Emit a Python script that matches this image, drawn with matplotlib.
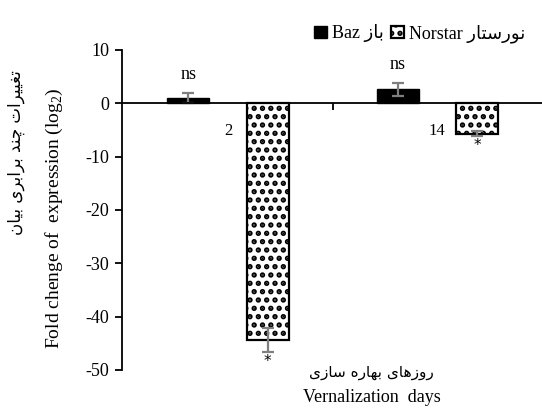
import numpy as np
import matplotlib
matplotlib.use("Agg")
from matplotlib import pyplot as plt

# data
days = ["2", "14"]
baz = [1.0, 2.6]
baz_err = [0.9, 1.2]
norstar = [-44.4, -5.7]
norstar_err = [2.2, 0.4]
baz_marks = ["ns", "ns"]
norstar_marks = ["*", "*"]
yticks = [10, 0, -10, -20, -30, -40, -50]

# minimal arabic/persian shaping (matplotlib has no bidi / joining)
FORMS = {
    "ا": ("\ufe8d", "\ufe8e", None, None),
    "ب": ("\ufe8f", "\ufe90", "\ufe91", "\ufe92"),
    "ت": ("\ufe95", "\ufe96", "\ufe97", "\ufe98"),
    "چ": ("\ufb7a", "\ufb7b", "\ufb7c", "\ufb7d"),
    "د": ("\ufea9", "\ufeaa", None, None),
    "ر": ("\ufead", "\ufeae", None, None),
    "ز": ("\ufeaf", "\ufeb0", None, None),
    "س": ("\ufeb1", "\ufeb2", "\ufeb3", "\ufeb4"),
    "غ": ("\ufecd", "\ufece", "\ufecf", "\ufed0"),
    "ن": ("\ufee5", "\ufee6", "\ufee7", "\ufee8"),
    "ه": ("\ufee9", "\ufeea", "\ufeeb", "\ufeec"),
    "و": ("\ufeed", "\ufeee", None, None),
    "ی": ("\ufbfc", "\ufbfd", "\ufbfe", "\ufbff"),
}
NONJOIN = set("ادذرزژو")


def fa(text):
    out = []
    for i, ch in enumerate(text):
        if ch not in FORMS:
            out.append(ch)
            continue
        prev = text[i - 1] if i > 0 else ""
        nxt = text[i + 1] if i + 1 < len(text) else ""
        jp = prev in FORMS and prev not in NONJOIN
        jn = nxt in FORMS and ch not in NONJOIN
        iso, fin, ini, med = FORMS[ch]
        if jp and jn:
            out.append(med)
        elif jp:
            out.append(fin)
        elif jn:
            out.append(ini)
        else:
            out.append(iso)
    return "".join(reversed(out))


plt.rcParams["font.family"] = ["Liberation Serif", "DejaVu Sans"]
plt.rcParams["mathtext.fontset"] = "custom"
plt.rcParams["mathtext.rm"] = "Liberation Serif"
plt.rcParams["axes.unicode_minus"] = False
plt.rcParams["hatch.color"] = "#4a4630"
plt.rcParams["hatch.linewidth"] = 2.6

fig = plt.figure(figsize=(5.42, 4.12), dpi=100)
ax = fig.add_axes([0.225, 0.102, 0.775, 0.777])

x = np.arange(len(days))
w = 0.2
off = 0.19
eb = dict(ecolor="#7f7f7f", elinewidth=1.6, capsize=4, capthick=1.6)
ax.bar(x - off, baz, w, yerr=baz_err, color="black", edgecolor="black",
       linewidth=1, error_kw=eb, label="Baz " + fa("باز"), zorder=2)
ax.bar(x + off, norstar, w, yerr=norstar_err, color="white", edgecolor="black",
       linewidth=1.6, hatch="..", error_kw=eb,
       label="Norstar " + fa("نورستار"), zorder=2)

for i in range(len(days)):
    ax.text(x[i] - off, baz[i] + baz_err[i] + 3.5, baz_marks[i],
            ha="center", va="center", fontsize=13)
    ax.text(x[i] + off, norstar[i] - norstar_err[i] - 1.9, norstar_marks[i],
            ha="center", va="center", fontsize=11, family="DejaVu Sans")

ax.set_xlim(-0.507, 1.5)
ax.set_ylim(-50, 10)
ax.set_yticks(yticks)
ax.tick_params(axis="y", direction="out", length=5, width=1.3,
               labelsize=13, pad=4)
ax.set_xticks(x, days)
ax.set_xticks([0.5], minor=True)
ax.tick_params(axis="x", which="major", length=0, pad=14, labelsize=12)
ax.tick_params(axis="x", which="minor", direction="out", length=5, width=1.3)
for lab in ax.get_xticklabels():
    lab.set_family("DejaVu Sans")
ax.spines["bottom"].set_position(("data", 0))
ax.spines["bottom"].set_linewidth(1.3)
ax.spines["left"].set_linewidth(1.3)
ax.spines["top"].set_visible(False)
ax.spines["right"].set_visible(False)

fig.text(0.1, 0.47, "Fold chenge of  expression (log$_2$)", rotation=90,
         ha="center", va="center", fontsize=14)
fig.text(0.03, 0.63, fa("تغییرات چند برابری بیان"), rotation=90,
         ha="center", va="center", fontsize=12, family="DejaVu Sans")
fig.text(0.686, 0.097, fa("روزهای بهاره سازی"), ha="center", va="center",
         fontsize=11, family="DejaVu Sans")
fig.text(0.686, 0.036, "Vernalization  days", ha="center", va="center",
         fontsize=13)

ax.legend(loc="upper right", bbox_to_anchor=(1.0, 1.13), ncol=2,
          frameon=False, fontsize=13, handlelength=0.7, handleheight=0.7,
          handletextpad=0.3, columnspacing=0.4)

fig.savefig("out.png", dpi=100)
